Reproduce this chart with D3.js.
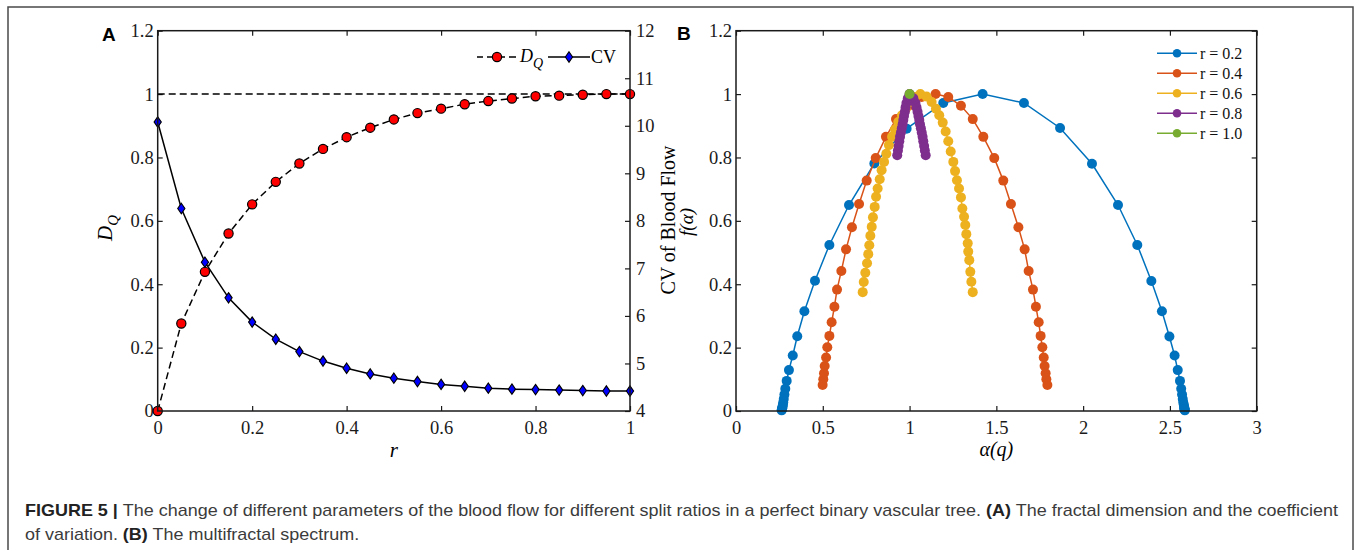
<!DOCTYPE html>
<html>
<head>
<meta charset="utf-8">
<script src="https://cdn.jsdelivr.net/npm/d3@7"></script>
<style>
  body { margin: 0; background: #fff; }
  svg { display: block; }
</style>
</head>
<body>
<div id="chart"></div>
<script>
// Panel A data: split ratio r, fractal dimension D_Q and CV of blood flow
const rValues = [0, 0.05, 0.1, 0.15, 0.2, 0.25, 0.3, 0.35, 0.4, 0.45, 0.5,
  0.55, 0.6, 0.65, 0.7, 0.75, 0.8, 0.85, 0.9, 0.95, 1];
const dqValues = [0, 0.276, 0.439, 0.560, 0.652, 0.723, 0.781, 0.827, 0.864, 0.894, 0.920,
  0.940, 0.954, 0.968, 0.978, 0.986, 0.993, 0.995, 0.998, 1.0, 1.0];
const cvValues = [10.08, 8.26, 7.13, 6.38, 5.87, 5.51, 5.25, 5.05, 4.90, 4.78, 4.69,
  4.62, 4.56, 4.52, 4.48, 4.46, 4.45, 4.44, 4.43, 4.42, 4.42];

const xTicksA = [0, 0.2, 0.4, 0.6, 0.8, 1];
const yTicksA = [0, 0.2, 0.4, 0.6, 0.8, 1, 1.2];
const yTicksA2 = [4, 5, 6, 7, 8, 9, 10, 11, 12];

// Panel B data: multifractal spectra f(alpha) for each split ratio
const alphaR02 = [0.263, 0.264, 0.265, 0.266, 0.268, 0.270, 0.272, 0.275, 0.279, 0.284,
  0.292, 0.305, 0.327, 0.353, 0.394, 0.455, 0.538, 0.651, 0.797, 0.983, 1.194,
  1.421,
  1.659, 1.867, 2.051, 2.201, 2.312, 2.393, 2.454, 2.497, 2.527, 2.545, 2.558,
  2.565, 2.570, 2.574, 2.577, 2.580, 2.582, 2.583, 2.584, 2.585, 2.586];
const fR02 = [0.002, 0.004, 0.006, 0.009, 0.013, 0.019, 0.027, 0.038, 0.052, 0.070,
  0.095, 0.129, 0.175, 0.236, 0.315, 0.411, 0.524, 0.650, 0.781, 0.891, 0.972,
  1.0,
  0.972, 0.893, 0.780, 0.650, 0.524, 0.410, 0.315, 0.235, 0.175, 0.129, 0.095,
  0.070, 0.052, 0.038, 0.027, 0.019, 0.013, 0.009, 0.006, 0.004, 0.002];

const alphaR04 = [0.499, 0.503, 0.507, 0.511, 0.519, 0.526, 0.538, 0.551, 0.567, 0.582,
  0.607, 0.634, 0.668, 0.709, 0.753, 0.805, 0.864, 0.922, 0.993, 1.070,
  1.150,
  1.223, 1.296, 1.364, 1.425, 1.488, 1.540, 1.584, 1.627, 1.663, 1.686,
  1.711, 1.728, 1.744, 1.755, 1.765, 1.773, 1.778, 1.784, 1.788, 1.794];
const fR04 = [0.082, 0.100, 0.119, 0.142, 0.169, 0.201, 0.237, 0.280, 0.329, 0.383,
  0.442, 0.510, 0.580, 0.653, 0.727, 0.798, 0.865, 0.921, 0.963, 0.991,
  1.0,
  0.991, 0.963, 0.921, 0.865, 0.798, 0.727, 0.653, 0.580, 0.510, 0.442,
  0.383, 0.329, 0.280, 0.237, 0.201, 0.169, 0.142, 0.119, 0.100, 0.082];

const alphaR06 = [0.730, 0.736, 0.745, 0.755, 0.762, 0.768, 0.774, 0.782, 0.789, 0.799,
  0.807, 0.816, 0.828, 0.839, 0.853, 0.866, 0.881, 0.899, 0.916, 0.935,
  0.956, 0.979, 1.006, 1.033,
  1.062,
  1.098, 1.127, 1.152, 1.171, 1.191, 1.208, 1.223, 1.237, 1.252, 1.262,
  1.273, 1.285, 1.296, 1.304, 1.314, 1.321, 1.327, 1.335, 1.338, 1.344,
  1.350, 1.356, 1.364];
const fR06 = [0.375, 0.407, 0.436, 0.466, 0.495, 0.523, 0.553, 0.581, 0.611, 0.644,
  0.676, 0.702, 0.731, 0.760, 0.786, 0.812, 0.839, 0.865, 0.888, 0.912,
  0.933, 0.954, 0.975, 0.991,
  1.0,
  0.992, 0.975, 0.954, 0.933, 0.910, 0.882, 0.851, 0.819, 0.786, 0.757,
  0.728, 0.702, 0.674, 0.639, 0.613, 0.587, 0.558, 0.529, 0.503, 0.476,
  0.439, 0.408, 0.375];

const alphaR08 = [0.929, 0.933, 0.937, 0.941, 0.945, 0.950, 0.955, 0.960, 0.964, 0.968,
  0.973, 0.977, 0.982, 0.990,
  1.0,
  1.022, 1.034, 1.040, 1.046, 1.051, 1.056, 1.060, 1.065, 1.070, 1.075,
  1.079, 1.084, 1.088, 1.093];
const fR08 = [0.807, 0.822, 0.836, 0.851, 0.865, 0.879, 0.892, 0.905, 0.918, 0.931,
  0.944, 0.958, 0.972, 0.987,
  1.0,
  0.987, 0.972, 0.958, 0.944, 0.931, 0.918, 0.905, 0.892, 0.879, 0.865,
  0.851, 0.836, 0.822, 0.807];

const alphaR10 = [1.0];
const fR10 = [1.0];

const seriesNames = ['r = 0.2', 'r = 0.4', 'r = 0.6', 'r = 0.8', 'r = 1.0'];
const seriesColors = ['#0072BD', '#D95319', '#EDB120', '#7E2F8E', '#77AC30'];
const xTicksB = [0, 0.5, 1, 1.5, 2, 2.5, 3];
const yTicksB = [0, 0.2, 0.4, 0.6, 0.8, 1, 1.2];

const serif = '"Liberation Serif", "Times New Roman", serif';
const sans = '"Liberation Sans", Arial, sans-serif';

const width = 1357;
const height = 550;

const svg = d3.select('#chart')
  .append('svg')
  .attr('width', width)
  .attr('height', height)
  .attr('viewBox', [0, 0, width, height]);

svg.append('rect').attr('width', width).attr('height', height).attr('fill', '#fff');

// outer figure frame
svg.append('rect')
  .attr('x', 8).attr('y', 7)
  .attr('width', 1345).attr('height', 600)
  .attr('fill', 'none')
  .attr('stroke', '#4a4a4a')
  .attr('stroke-width', 1.5);

const plotTop = 30.7;
const plotBottom = 411;

function styleAxis(g) {
  g.select('.domain').remove();
  g.selectAll('.tick line').attr('stroke', '#1a1a1a').attr('stroke-width', 1.2);
  g.selectAll('.tick text')
    .attr('fill', '#1a1a1a')
    .style('font-family', serif)
    .style('font-size', '18.5px');
}

function frame(x0, x1) {
  svg.append('rect')
    .attr('x', x0).attr('y', plotTop)
    .attr('width', x1 - x0).attr('height', plotBottom - plotTop)
    .attr('fill', 'none')
    .attr('stroke', '#1a1a1a')
    .attr('stroke-width', 1.5);
}

// ---------------- Panel A ----------------
const xA = d3.scaleLinear().domain([0, 1]).range([157.7, 630]);
const yA = d3.scaleLinear().domain([0, 1.2]).range([plotBottom, plotTop]);
const yA2 = d3.scaleLinear().domain([4, 12]).range([plotBottom, plotTop]);
const fmt = d3.format('~g');

svg.append('g')
  .attr('transform', `translate(0,${plotBottom})`)
  .call(d3.axisBottom(xA).tickValues(xTicksA).tickFormat(fmt).tickSize(-5).tickSizeOuter(0).tickPadding(10))
  .call(styleAxis);
svg.append('g')
  .attr('transform', `translate(0,${plotTop})`)
  .call(d3.axisTop(xA).tickValues(xTicksA).tickFormat('').tickSize(-5).tickSizeOuter(0))
  .call(styleAxis);
svg.append('g')
  .attr('transform', `translate(${xA(0)},0)`)
  .call(d3.axisLeft(yA).tickValues(yTicksA).tickFormat(fmt).tickSize(-5).tickSizeOuter(0).tickPadding(4))
  .call(styleAxis);
svg.append('g')
  .attr('transform', `translate(${xA(1)},0)`)
  .call(d3.axisRight(yA2).tickValues(yTicksA2).tickFormat(fmt).tickSize(-5).tickSizeOuter(0).tickPadding(6))
  .call(styleAxis);

// reference line at D_Q = 1
svg.append('path')
  .datum([0, 1])
  .attr('fill', 'none')
  .attr('stroke', '#000')
  .attr('stroke-width', 1.5)
  .attr('stroke-dasharray', '7,4')
  .attr('d', d3.line().x((d) => xA(d)).y(() => yA(1)));

const dataA = rValues.map((r, i) => ({ r, dq: dqValues[i], cv: cvValues[i] }));

svg.append('path')
  .datum(dataA)
  .attr('fill', 'none')
  .attr('stroke', '#000')
  .attr('stroke-width', 1.5)
  .attr('stroke-dasharray', '7,4')
  .attr('d', d3.line().x((d) => xA(d.r)).y((d) => yA(d.dq)));

svg.append('path')
  .datum(dataA)
  .attr('fill', 'none')
  .attr('stroke', '#000')
  .attr('stroke-width', 1.5)
  .attr('d', d3.line().x((d) => xA(d.r)).y((d) => yA2(d.cv)));

const diamond = 'M0,-5.2L3.6,0L0,5.2L-3.6,0Z';

svg.append('g')
  .selectAll('circle')
  .data(dataA)
  .join('circle')
  .attr('cx', (d) => xA(d.r))
  .attr('cy', (d) => yA(d.dq))
  .attr('r', 4.6)
  .attr('fill', '#ff0000')
  .attr('stroke', '#000')
  .attr('stroke-width', 1.2);

svg.append('g')
  .selectAll('path')
  .data(dataA)
  .join('path')
  .attr('transform', (d) => `translate(${xA(d.r)},${yA2(d.cv)})`)
  .attr('d', diamond)
  .attr('fill', '#0000ff')
  .attr('stroke', '#000')
  .attr('stroke-width', 1.1);

frame(xA(0), xA(1));

// legend A
const legA = svg.append('g').attr('transform', 'translate(0,57)');
legA.append('line').attr('x1', 477).attr('x2', 517).attr('stroke', '#000')
  .attr('stroke-width', 1.5).attr('stroke-dasharray', '7,4').attr('stroke-dashoffset', 1);
legA.append('circle').attr('cx', 497).attr('r', 4.6).attr('fill', '#ff0000')
  .attr('stroke', '#000').attr('stroke-width', 1.2);
const dqLeg = legA.append('text').attr('x', 520).attr('y', 5)
  .style('font-family', serif).style('font-size', '18px').style('font-style', 'italic');
dqLeg.append('tspan').text('D');
dqLeg.append('tspan').attr('dy', 6).style('font-size', '14px').text('Q');
legA.append('line').attr('x1', 548).attr('x2', 590).attr('stroke', '#000').attr('stroke-width', 1.5);
legA.append('path').attr('transform', 'translate(569,0)').attr('d', diamond)
  .attr('fill', '#0000ff').attr('stroke', '#000').attr('stroke-width', 1.1);
legA.append('text').attr('x', 591).attr('y', 6)
  .style('font-family', serif).style('font-size', '18px').text('CV');

// axis labels A
svg.append('text')
  .attr('x', xA(0.5)).attr('y', 457)
  .attr('text-anchor', 'middle')
  .style('font-family', serif).style('font-size', '21px').style('font-style', 'italic')
  .text('r');

const dqLabel = svg.append('text')
  .attr('transform', 'translate(112,228) rotate(-90)')
  .attr('text-anchor', 'middle')
  .style('font-family', serif).style('font-size', '21px').style('font-style', 'italic');
dqLabel.append('tspan').text('D');
dqLabel.append('tspan').attr('dy', 6).style('font-size', '15px').text('Q');

svg.append('text')
  .attr('transform', 'translate(675,220) rotate(-90)')
  .attr('text-anchor', 'middle')
  .style('font-family', serif).style('font-size', '20px')
  .text('CV of Blood Flow');

svg.append('text')
  .attr('x', 102).attr('y', 41)
  .style('font-family', sans).style('font-size', '19px').style('font-weight', 'bold')
  .text('A');

// ---------------- Panel B ----------------
const xB = d3.scaleLinear().domain([0, 3]).range([736, 1256.7]);
const yB = d3.scaleLinear().domain([0, 1.2]).range([plotBottom, plotTop]);

svg.append('g')
  .attr('transform', `translate(0,${plotBottom})`)
  .call(d3.axisBottom(xB).tickValues(xTicksB).tickFormat(fmt).tickSize(-5).tickSizeOuter(0).tickPadding(10))
  .call(styleAxis);
svg.append('g')
  .attr('transform', `translate(0,${plotTop})`)
  .call(d3.axisTop(xB).tickValues(xTicksB).tickFormat('').tickSize(-5).tickSizeOuter(0))
  .call(styleAxis);
svg.append('g')
  .attr('transform', `translate(${xB(0)},0)`)
  .call(d3.axisLeft(yB).tickValues(yTicksB).tickFormat(fmt).tickSize(-5).tickSizeOuter(0).tickPadding(4))
  .call(styleAxis);
svg.append('g')
  .attr('transform', `translate(${xB(3)},0)`)
  .call(d3.axisRight(yB).tickValues(yTicksB).tickFormat('').tickSize(-5).tickSizeOuter(0))
  .call(styleAxis);

const seriesB = [
  [alphaR02, fR02],
  [alphaR04, fR04],
  [alphaR06, fR06],
  [alphaR08, fR08],
  [alphaR10, fR10]
].map(([a, f], i) => ({
  name: seriesNames[i],
  color: seriesColors[i],
  points: a.map((v, j) => ({ alpha: v, f: f[j] }))
}));

const lineB = d3.line().x((d) => xB(d.alpha)).y((d) => yB(d.f));

seriesB.forEach((s) => {
  const g = svg.append('g');
  g.append('path')
    .datum(s.points)
    .attr('fill', 'none')
    .attr('stroke', s.color)
    .attr('stroke-width', 1.5)
    .attr('d', lineB);
  g.selectAll('circle')
    .data(s.points)
    .join('circle')
    .attr('cx', (d) => xB(d.alpha))
    .attr('cy', (d) => yB(d.f))
    .attr('r', 5)
    .attr('fill', s.color);
});

frame(xB(0), xB(3));

// legend B
const legB = svg.append('g');
seriesB.forEach((s, i) => {
  const y = 53.3 + i * 20;
  legB.append('line').attr('x1', 1157).attr('x2', 1197).attr('y1', y).attr('y2', y)
    .attr('stroke', s.color).attr('stroke-width', 1.5);
  legB.append('circle').attr('cx', 1177).attr('cy', y).attr('r', 4.3).attr('fill', s.color);
  legB.append('text').attr('x', 1200).attr('y', y + 5.5)
    .style('font-family', serif).style('font-size', '16px').attr('fill', '#111')
    .text(s.name);
});

// axis labels B
svg.append('text')
  .attr('x', xB(1.5)).attr('y', 456)
  .attr('text-anchor', 'middle')
  .style('font-family', serif).style('font-size', '20px').style('font-style', 'italic')
  .text('α(q)');

svg.append('text')
  .attr('transform', 'translate(693,222) rotate(-90)')
  .attr('text-anchor', 'middle')
  .style('font-family', serif).style('font-size', '19px').style('font-style', 'italic')
  .text('f(α)');

svg.append('text')
  .attr('x', 677).attr('y', 40)
  .style('font-family', sans).style('font-size', '19px').style('font-weight', 'bold')
  .text('B');

// ---------------- Caption ----------------
const caption1 = [
  { t: 'FIGURE 5 | ', b: true },
  { t: 'The change of different parameters of the blood flow for different split ratios in a perfect binary vascular tree. ', b: false },
  { t: '(A)', b: true },
  { t: ' The fractal dimension and the coefficient', b: false }
];
const caption2 = [
  { t: 'of variation. ', b: false },
  { t: '(B)', b: true },
  { t: ' The multifractal spectrum.', b: false }
];

function captionLine(parts, y) {
  const t = svg.append('text')
    .attr('x', 25).attr('y', y)
    .style('font-family', sans).style('font-size', '17px').attr('fill', '#3b3b3b');
  parts.forEach((p) => {
    t.append('tspan')
      .style('font-weight', p.b ? 'bold' : 'normal')
      .attr('fill', p.b ? '#222' : '#3b3b3b')
      .text(p.t);
  });
  return t;
}

// squeeze the caption horizontally like the narrow original typeface
const cap1 = captionLine(caption1, 515.5);
const cap2 = captionLine(caption2, 540);
const squeeze = 1313 / cap1.node().getComputedTextLength();
cap1.attr('textLength', 1313).attr('lengthAdjust', 'spacingAndGlyphs');
cap2.attr('textLength', cap2.node().getComputedTextLength() * squeeze)
  .attr('lengthAdjust', 'spacingAndGlyphs');
</script>
</body>
</html>
